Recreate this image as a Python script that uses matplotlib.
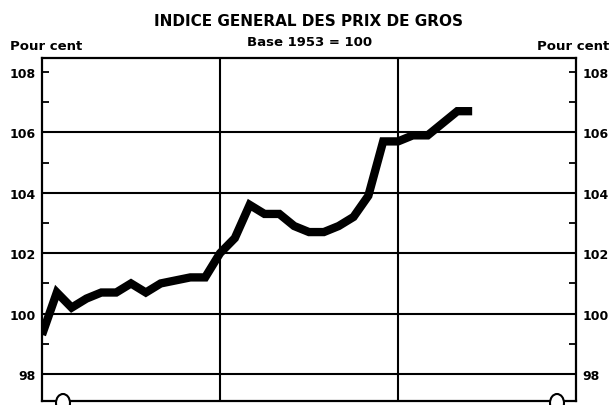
# Indice general des prix de gros, base 1953 = 100
import numpy as np
import matplotlib
matplotlib.use("Agg")
import matplotlib.pyplot as plt
from matplotlib.patches import Ellipse
from matplotlib.transforms import IdentityTransform

# monthly values (3 years, 12 months each)
months = np.arange(30)
indice = [99.3, 100.7, 100.2, 100.5, 100.7, 100.7, 101.0, 100.7, 101.0, 101.1,
          101.2, 101.2, 102.0, 102.5, 103.6, 103.3, 103.3, 102.9, 102.7, 102.7,
          102.9, 103.2, 103.9, 105.7, 105.7, 105.9, 105.9, 106.3, 106.7, 106.7]
major_ticks = [98, 100, 102, 104, 106, 108]
minor_ticks = [99, 101, 103, 105, 107]
grid_levels = [98, 100, 102, 104, 106]
year_breaks = [12, 24]

fig = plt.figure(figsize=(6.12, 4.06), dpi=100)
ax = fig.add_axes([42 / 612, 4 / 406, 534 / 612, 343 / 406])

for v in grid_levels:
    ax.axhline(v, color="black", lw=1.5, zorder=1)
for m in year_breaks:
    ax.axvline(m, color="black", lw=1.5, zorder=1)

ax.plot(months, indice, color="black", lw=6, solid_joinstyle="miter",
        solid_capstyle="butt", zorder=3)

ax.set_xlim(0, 36)
ax.set_ylim(97.11, 108.46)
ax.set_xticks([])
ax.set_yticks(major_ticks)
ax.set_yticks(minor_ticks, minor=True)
ax.tick_params(axis="y", which="both", direction="in", left=True, right=True,
               labelleft=True, labelright=True, width=1.3, color="black")
ax.tick_params(axis="y", which="major", length=5, pad=4.5, labelsize=9)
ax.tick_params(axis="y", which="minor", length=5)
for lab in ax.get_yticklabels():
    lab.set_fontweight("bold")
for s in ax.spines.values():
    s.set_linewidth(1.6)

# titles
fig.text(308 / 612, 1 - 22 / 406, "INDICE GENERAL DES PRIX DE GROS",
         ha="center", va="center", fontsize=11, fontweight="bold")
fig.text(310 / 612, 1 - 42 / 406, "Base 1953 = 100",
         ha="center", va="center", fontsize=9.5, fontweight="bold")
fig.text(10 / 612, 1 - 47 / 406, "Pour cent", ha="left", va="center",
         fontsize=9.5, fontweight="bold")
fig.text(609 / 612, 1 - 47 / 406, "Pour cent", ha="right", va="center",
         fontsize=9.5, fontweight="bold")

# small notches on the bottom frame
for cx in [63, 557]:
    fig.add_artist(Ellipse((cx, 2), 14, 18, facecolor="white", edgecolor="black",
                           lw=1.5, transform=IdentityTransform(), clip_on=False))

fig.savefig("out.png", dpi=100)
